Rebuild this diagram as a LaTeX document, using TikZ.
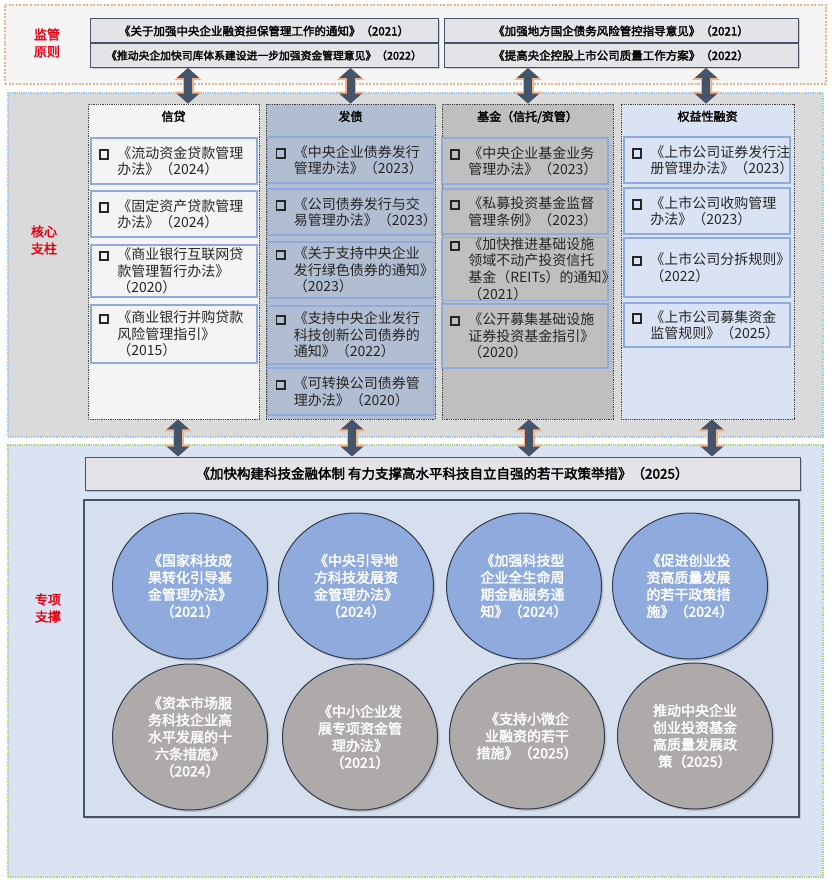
\documentclass[tikz,border=0pt]{standalone}
\usepackage{fontspec}
\setmainfont{Noto Sans CJK SC}[AutoFakeBold=2.4]
\usepackage{tikz}
\usetikzlibrary{shapes.geometric}
\usetikzlibrary{arrows.meta}
\usetikzlibrary{positioning}
\usetikzlibrary{shadows}
\definecolor{slate}{HTML}{44546A}
\definecolor{glow}{HTML}{F4B183}
\definecolor{labred}{HTML}{E60012}
\definecolor{supgrey}{HTML}{F5F5F5}
\definecolor{coregrey}{HTML}{DADADA}
\definecolor{coreline}{HTML}{9DC3E6}
\definecolor{specblue}{HTML}{DAE3F3}
\definecolor{specline}{HTML}{A9D18E}
\definecolor{lawgrey}{HTML}{E4E4E8}
\definecolor{colwhite}{HTML}{F4F4F4}
\definecolor{colslate}{HTML}{B1BED2}
\definecolor{colgrey}{HTML}{BFBFBF}
\definecolor{colblue}{HTML}{DAE3F3}
\definecolor{docblue}{HTML}{8FAADC}
\definecolor{doctext}{HTML}{262626}
\definecolor{framefill}{HTML}{D6DFEE}
\definecolor{discblue}{HTML}{8FAADC}
\definecolor{discgrey}{HTML}{AEAAAA}
\definecolor{discline}{HTML}{2F3B4F}
\tikzset{panel/.style={rectangle, line width=1.3pt, densely dotted}}
\tikzset{lbl/.style={text=labred, align=center, font=\bfseries\fontsize{13}{17}\selectfont}}
\tikzset{law/.style={rectangle, draw=slate, fill=lawgrey, line width=1pt, minimum height=24pt,
    drop shadow={opacity=.35, shadow xshift=1.5pt, shadow yshift=-1.5pt},
    font=\bfseries\fontsize{11.5}{13}\selectfont}}
\tikzset{column/.style={rectangle, draw=black!75, densely dotted, line width=.8pt, minimum height=315pt}}
\tikzset{hd/.style={font=\bfseries\fontsize{12}{14}\selectfont, inner sep=0pt}}
\tikzset{doc/.style={rectangle, draw=docblue, line width=1.1pt, minimum width=166pt, inner sep=0pt,
    text=doctext, font=\fontsize{14}{16.5}\selectfont}}
\tikzset{frame/.style={rectangle, draw=slate, fill=framefill, line width=1.2pt,
    drop shadow={opacity=.3, shadow xshift=1.5pt, shadow yshift=-1.5pt}}}
\tikzset{disc/.style={ellipse, draw=discline, line width=1pt, minimum width=155pt, minimum height=146pt,
    text=white, font=\bfseries\fontsize{14}{17}\selectfont,
    drop shadow={opacity=.35, shadow xshift=2pt, shadow yshift=-2pt}}}
\tikzset{link/.style={draw=slate, line width=8pt,
    {Triangle[length=10pt,width=22pt]}-{Triangle[length=10pt,width=22pt]},
    preaction={draw=glow, line width=11pt,
      {Triangle[length=12pt,width=27pt]}-{Triangle[length=12pt,width=27pt]}}}}
\tikzset{%
  apply style/.code={%
    \tikzset{#1}%
  }
}
\newcommand\chk{{\setlength\fboxrule{1.9pt}\setlength\fboxsep{0pt}%
  \fbox{\rule{0pt}{6.5pt}\rule{6.5pt}{0pt}}}}
\newcommand\docitem[1]{\makebox[150pt][l]{\raisebox{.3pt}{\chk}\hspace{8pt}\parbox[t]{135pt}{#1}}}

\begin{document}
\begin{tikzpicture}[x=1pt,y=-1pt]
  \useasboundingbox[fill=white] (0,0) rectangle (831,885);
  % three bands
  \node[panel, draw=glow, fill=supgrey, dash pattern=on 2pt off 1.5pt,
    minimum width=821pt, minimum height=79pt] (sup) at (415.5,44.5) {};
  \node[panel, draw=coreline, fill=coregrey,
    minimum width=815pt, minimum height=344pt] (core) at (415.5,265) {};
  \node[panel, draw=specline, fill=specblue,
    minimum width=815pt, minimum height=432pt] (spec) at (415.5,661) {};
  \node[lbl] (lsup) at (47,43) {监管\\原则};
  \node[lbl] (lcore) at (44,240) {核心\\支柱};
  \node[lbl] (lspec) at (48,608) {专项\\支撑};

  % supervision rules
  \foreach \x/\y/\w/\name/\txt in {
    264/31/348/p1/{《关于加强中央企业融资担保管理工作的通知》（2021）},
    621/31/354/p2/{《加强地方国企债务风险管控指导意见》（2021）},
    264/55.5/348/p3/{\fontsize{10.8}{13}\selectfont《推动央企加快司库体系建设进一步加强资金管理意见》（2022）},
    621/55.5/354/p4/{《提高央企控股上市公司质量工作方案》（2022）}%
  } {
    \node[law, minimum width=\w pt] (\name) at (\x,\y) {\txt};
  }

  % four pillars
  \foreach \x/\w/\f/\name/\head in {
    173.5/171/colwhite/c1/信贷,
    350.5/169/colslate/c2/发债,
    527.5/171/colgrey/c3/{基金（信托/资管）},
    707.5/173/colblue/c4/权益性融资%
  } {
    \node[column, fill=\f, minimum width=\w pt] (\name) at (\x,261.5) {};
    \node[hd, below=7pt of \name.north] (h\name) {\head};
  }

  \foreach \x/\y/\h/\txt [count=\i] in {
    174/161/46/{《流动资金贷款管理\\办法》（2024）},
    174/214/46/{《固定资产贷款管理\\办法》（2024）},
    174/271/52/{《商业银行互联网贷\\款管理暂行办法》\\（2020）},
    174/334/58/{《商业银行并购贷款\\风险管理指引》\\（2015）},
    350.5/160/46/{《中央企业债券发行\\管理办法》（2023）},
    350.5/212/46/{《公司债券发行与交\\易管理办法》（2023）},
    350.5/270/56/{《关于支持中央企业\\发行绿色债券的通知》\\（2023）},
    350.5/335/58/{《支持中央企业发行\\科技创新公司债券的\\通知》（2022）},
    350.5/391.5/47/{《可转换公司债券管\\理办法》（2020）},
    525/161/46/{《中央企业基金业务\\管理办法》（2023）},
    525/211.5/45/{《私募投资基金监督\\管理条例》（2023）},
    525/269/62/{《加快推进基础设施\\领域不动产投资信托\\基金（REITs）的通知》\\（2021）},
    525/336/64/{《公开募集基础设施\\证券投资基金指引》\\（2020）},
    707/160/46/{《上市公司证券发行注\\册管理办法》（2023）},
    707/211/46/{《上市公司收购管理\\办法》（2023）},
    707/267.5/59/{《上市公司分拆规则》\\（2022）},
    707/325/44/{《上市公司募集资金\\监管规则》（2025）}%
  } {
    \node[doc, minimum height=\h pt] (d\i) at (\x,\y) {\docitem{\txt}};
  }

  % special support
  \node[law, minimum width=715pt, minimum height=33pt,
    font=\bfseries\fontsize{13.5}{16}\selectfont] (head) at (442.5,473.5)
    {《加快构建科技金融体制 有力支撑高水平科技自立自强的若干政策举措》（2025）};
  \node[frame, minimum width=715pt, minimum height=317pt] (box) at (441.5,658.5) {};

  \foreach \x/\y/\st/\txt [count=\i] in {
    190/586/{fill=discblue, align=center}/{《国家科技成\\果转化引导基\\金管理办法》\\（2021）},
    356/586/{fill=discblue, align=center}/{《中央引导地\\方科技发展资\\金管理办法》\\（2024）},
    524/586/{fill=discblue, align=left}/{《加强科技型\\企业全生命周\\期金融服务通\\知》（2024）},
    690/586/{fill=discblue, align=left}/{《促进创业投\\资高质量发展\\的若干政策措\\施》（2024）},
    190/737/{fill=discgrey, align=center}/{《资本市场服\\务科技企业高\\水平发展的十\\六条措施》\\（2024）},
    360/737/{fill=discgrey, align=center}/{《中小企业发\\展专项资金管\\理办法》\\（2021）},
    527/736/{fill=discgrey, align=center}/{《支持小微企\\业融资的若干\\措施》（2025）},
    695/736/{fill=discgrey, align=center}/{推动中央企业\\创业投资基金\\高质量发展政\\策（2025）}%
  } {
    \node[disc, apply style/.expand once=\st] (e\i) at (\x,\y) {\txt};
  }

  % links between the bands
  \foreach \c/\dx in {c1/14.5, c2/0, c3/0.5, c4/-1.5} {
    \draw[link] ([xshift=\dx pt]\c.north) -- ([xshift=\dx pt]\c.north |- p3.south);
  }
  \foreach \c/\dx in {c1/4.5, c2/1.5, c3/1.5, c4/4.5} {
    \draw[link] ([xshift=\dx pt]\c.south) -- ([xshift=\dx pt]\c.south |- head.north);
  }
\end{tikzpicture}
\end{document}
